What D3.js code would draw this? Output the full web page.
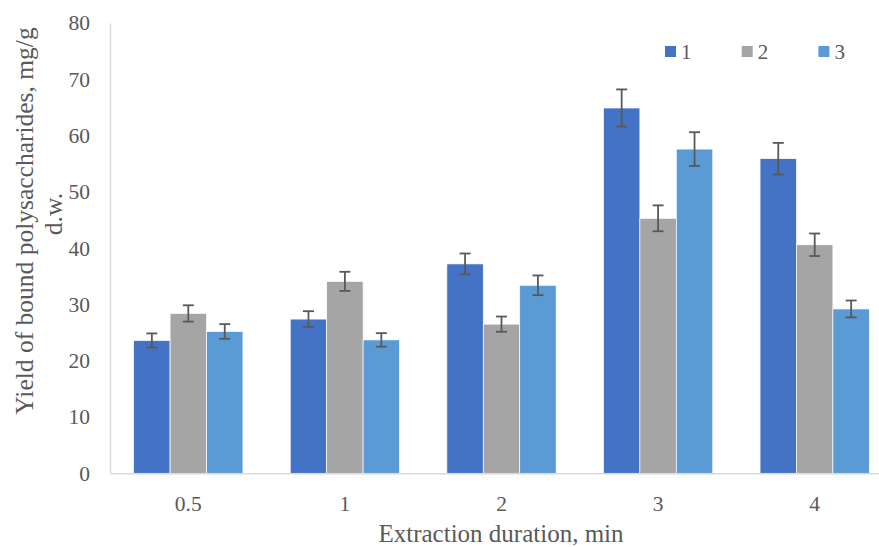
<!DOCTYPE html>
<html>
<head>
<meta charset="utf-8">
<script src="https://cdn.jsdelivr.net/npm/d3@7/dist/d3.min.js"></script>
<style>
  body { margin: 0; background: #fff; }
  svg text { font-family: "Liberation Serif", "Times New Roman", serif; fill: #595959; }
</style>
</head>
<body>
<svg id="chart" width="879" height="547"></svg>
<script>
const categories = ["0.5", "1", "2", "3", "4"];
const seriesNames = ["1", "2", "3"];
const series1 = [23.6, 27.4, 37.2, 64.9, 55.9];
const series2 = [28.4, 34.1, 26.5, 45.3, 40.6];
const series3 = [25.2, 23.7, 33.4, 57.6, 29.2];
const err1 = [1.25, 1.4, 1.85, 3.3, 2.8];
const err2 = [1.45, 1.7, 1.35, 2.3, 2.0];
const err3 = [1.3, 1.2, 1.75, 3.0, 1.5];
const yTicks = [0, 10, 20, 30, 40, 50, 60, 70, 80];

const colors = ["#4472C4", "#A5A5A5", "#5B9BD5"];
const values = [series1, series2, series3];
const errors = [err1, err2, err3];

const svg = d3.select("#chart");
const plotLeft = 110, plotRight = 893, plotTop = 23, plotBottom = 473.3;

const x = d3.scaleBand().domain(categories).range([plotLeft, plotRight]).paddingInner(0.302).paddingOuter(0.151);
const xs = d3.scaleBand().domain(seriesNames).range([0, x.bandwidth()]);
const y = d3.scaleLinear().domain([0, 80]).range([plotBottom, plotTop]);

// bars
const groups = svg.append("g").selectAll("g")
  .data(categories)
  .enter().append("g")
  .attr("transform", d => "translate(" + x(d) + ",0)");

seriesNames.forEach((s, si) => {
  groups.append("rect")
    .attr("x", d => xs(s))
    .attr("y", (d, i) => y(values[si][i]))
    .attr("width", xs.bandwidth())
    .attr("height", (d, i) => plotBottom - y(values[si][i]))
    .attr("fill", colors[si])
    .attr("stroke", "#ffffff")
    .attr("stroke-width", 0.7);
});

// error bars
seriesNames.forEach((s, si) => {
  const g = groups.append("g").attr("stroke", "#595959").attr("stroke-width", 1.8);
  const cx = xs(s) + xs.bandwidth() / 2;
  g.append("line")
    .attr("x1", cx).attr("x2", cx)
    .attr("y1", (d, i) => y(values[si][i] + errors[si][i]))
    .attr("y2", (d, i) => y(values[si][i] - errors[si][i]));
  g.append("line")
    .attr("x1", cx - 5.5).attr("x2", cx + 5.5)
    .attr("y1", (d, i) => y(values[si][i] + errors[si][i]))
    .attr("y2", (d, i) => y(values[si][i] + errors[si][i]));
  g.append("line")
    .attr("x1", cx - 5.5).attr("x2", cx + 5.5)
    .attr("y1", (d, i) => y(values[si][i] - errors[si][i]))
    .attr("y2", (d, i) => y(values[si][i] - errors[si][i]));
});

// y axis
const yAxis = svg.append("g")
  .attr("transform", "translate(" + plotLeft + ",0)")
  .call(d3.axisLeft(y).tickValues(yTicks).tickSize(0).tickPadding(20));
yAxis.select(".domain").attr("stroke", "#d9d9d9").attr("stroke-width", 1.5);
yAxis.selectAll("text").attr("font-size", "21.5px").attr("fill", "#595959")
  .style("font-family", "Liberation Serif");

// x axis
const xAxis = svg.append("g")
  .attr("transform", "translate(0," + plotBottom + ")")
  .call(d3.axisBottom(x).tickSize(0).tickPadding(22));
xAxis.select(".domain").attr("stroke", "#d9d9d9").attr("stroke-width", 1.5);
xAxis.selectAll("text").attr("font-size", "21.5px").attr("fill", "#595959")
  .style("font-family", "Liberation Serif");

// axis titles
svg.append("text")
  .attr("x", 501).attr("y", 542)
  .attr("text-anchor", "middle")
  .attr("font-size", "25px")
  .text("Extraction duration, min");

svg.append("text")
  .attr("transform", "translate(33,221) rotate(-90)")
  .attr("text-anchor", "middle")
  .attr("font-size", "25.5px")
  .text("Yield of bound polysaccharides, mg/g");
svg.append("text")
  .attr("transform", "translate(62,214) rotate(-90)")
  .attr("text-anchor", "middle")
  .attr("font-size", "25.5px")
  .text("d.w.");

// legend
const legend = svg.append("g").selectAll("g")
  .data(seriesNames)
  .enter().append("g")
  .attr("transform", (d, i) => "translate(" + (665 + i * 76.7) + ",46)");
legend.append("rect")
  .attr("width", 11).attr("height", 11)
  .attr("fill", (d, i) => colors[i]);
legend.append("text")
  .attr("x", 16).attr("y", 12.5)
  .attr("font-size", "21px")
  .text(d => d);
</script>
</body>
</html>
